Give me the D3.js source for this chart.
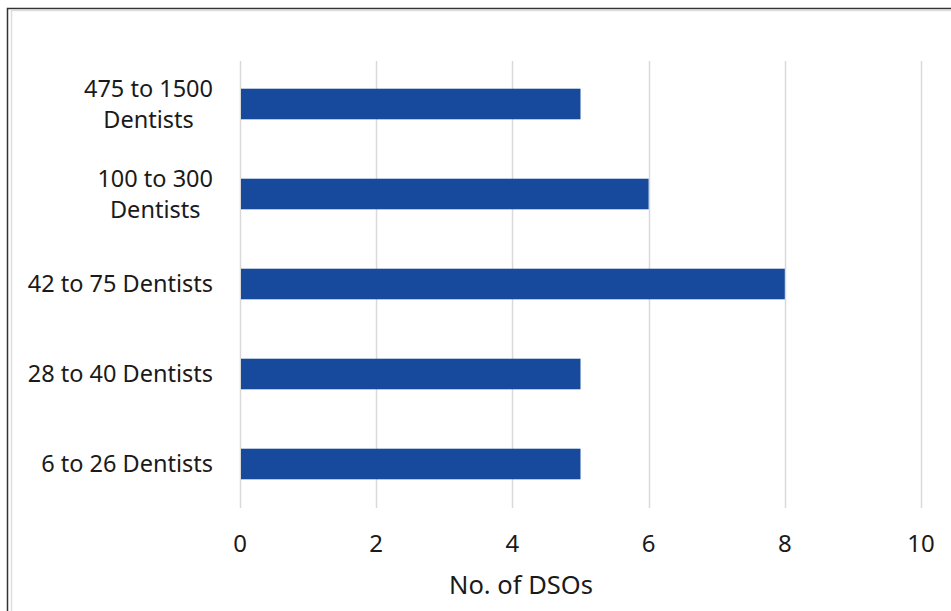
<!DOCTYPE html>
<html>
<head>
<meta charset="utf-8">
<script src="https://cdn.jsdelivr.net/npm/d3@7"></script>
<style>
  html, body { margin: 0; padding: 0; background: #fff; }
  svg { display: block; }
  text { font-family: "Noto Sans", "Open Sans", sans-serif; fill: #1a1a1a; }
</style>
</head>
<body>
<svg id="chart" width="951" height="611"></svg>
<script>
const categories = [
  ["475 to 1500", "Dentists"],
  ["100 to 300", "Dentists"],
  ["42 to 75 Dentists"],
  ["28 to 40 Dentists"],
  ["6 to 26 Dentists"]
];
const values = [5, 6, 8, 5, 5];
const xTicks = [0, 2, 4, 6, 8, 10];
const xTitle = "No. of DSOs";

const svg = d3.select("#chart");
const W = 951, H = 611;

// frame
svg.append("rect").attr("x", 7.5).attr("y", 8.5).attr("width", W + 10).attr("height", H + 10)
  .attr("fill", "none").attr("stroke", "#333").attr("stroke-width", 1.5);
svg.append("rect").attr("x", 11.5).attr("y", 10.5).attr("width", W + 10).attr("height", H + 10)
  .attr("fill", "none").attr("stroke", "#ddd").attr("stroke-width", 1.5);

const x = d3.scaleLinear().domain([0, 10]).range([240, 921]);
const keys = categories.map(c => c.join(" "));
const y = d3.scaleBand().domain(keys).range([59, 509]).paddingInner(0.66).paddingOuter(0.33);

// gridlines
svg.append("g").selectAll("line").data(xTicks).join("line")
  .attr("x1", d => Math.round(x(d)) + 0.5).attr("x2", d => Math.round(x(d)) + 0.5)
  .attr("y1", 61).attr("y2", 508)
  .attr("stroke", "#d9d9d9").attr("stroke-width", 1.5);

// bars
svg.append("g").selectAll("rect").data(values).join("rect")
  .attr("x", x(0) + 1)
  .attr("y", (d, i) => y(keys[i]))
  .attr("width", d => x(d) - x(0) - 1)
  .attr("height", y.bandwidth())
  .attr("fill", "#174a9c");

// category labels (multi-line labels centred within a right-aligned block)
const labelRight = 213;
const lab = svg.append("g").selectAll("text").data(categories).join("text")
  .attr("font-size", 23.5)
  .attr("y", (d, i) => y(keys[i]) + y.bandwidth() / 2);
lab.each(function(d) {
  const t = d3.select(this);
  const n = d.length;
  const spans = d.map((line, j) => t.append("tspan")
      .attr("dy", j === 0 ? ((-(n - 1) * 31) / 2 + 8) + "px" : "31px")
      .text(line));
  if (n === 1) {
    t.attr("text-anchor", "end");
    spans[0].attr("x", labelRight);
  } else {
    const widths = spans.map(s => s.node().getComputedTextLength());
    const cx = labelRight - d3.max(widths) / 2;
    t.attr("text-anchor", "middle");
    spans.forEach(s => s.attr("x", cx));
  }
});

// x tick labels
svg.append("g").selectAll("text").data(xTicks).join("text")
  .attr("x", d => x(d)).attr("y", 552)
  .attr("text-anchor", "middle").attr("font-size", 24)
  .text(d => d3.format("d")(d));

// axis title
svg.append("text").attr("x", 521).attr("y", 594)
  .attr("text-anchor", "middle").attr("font-size", 25.5)
  .text(xTitle);
</script>
</body>
</html>
